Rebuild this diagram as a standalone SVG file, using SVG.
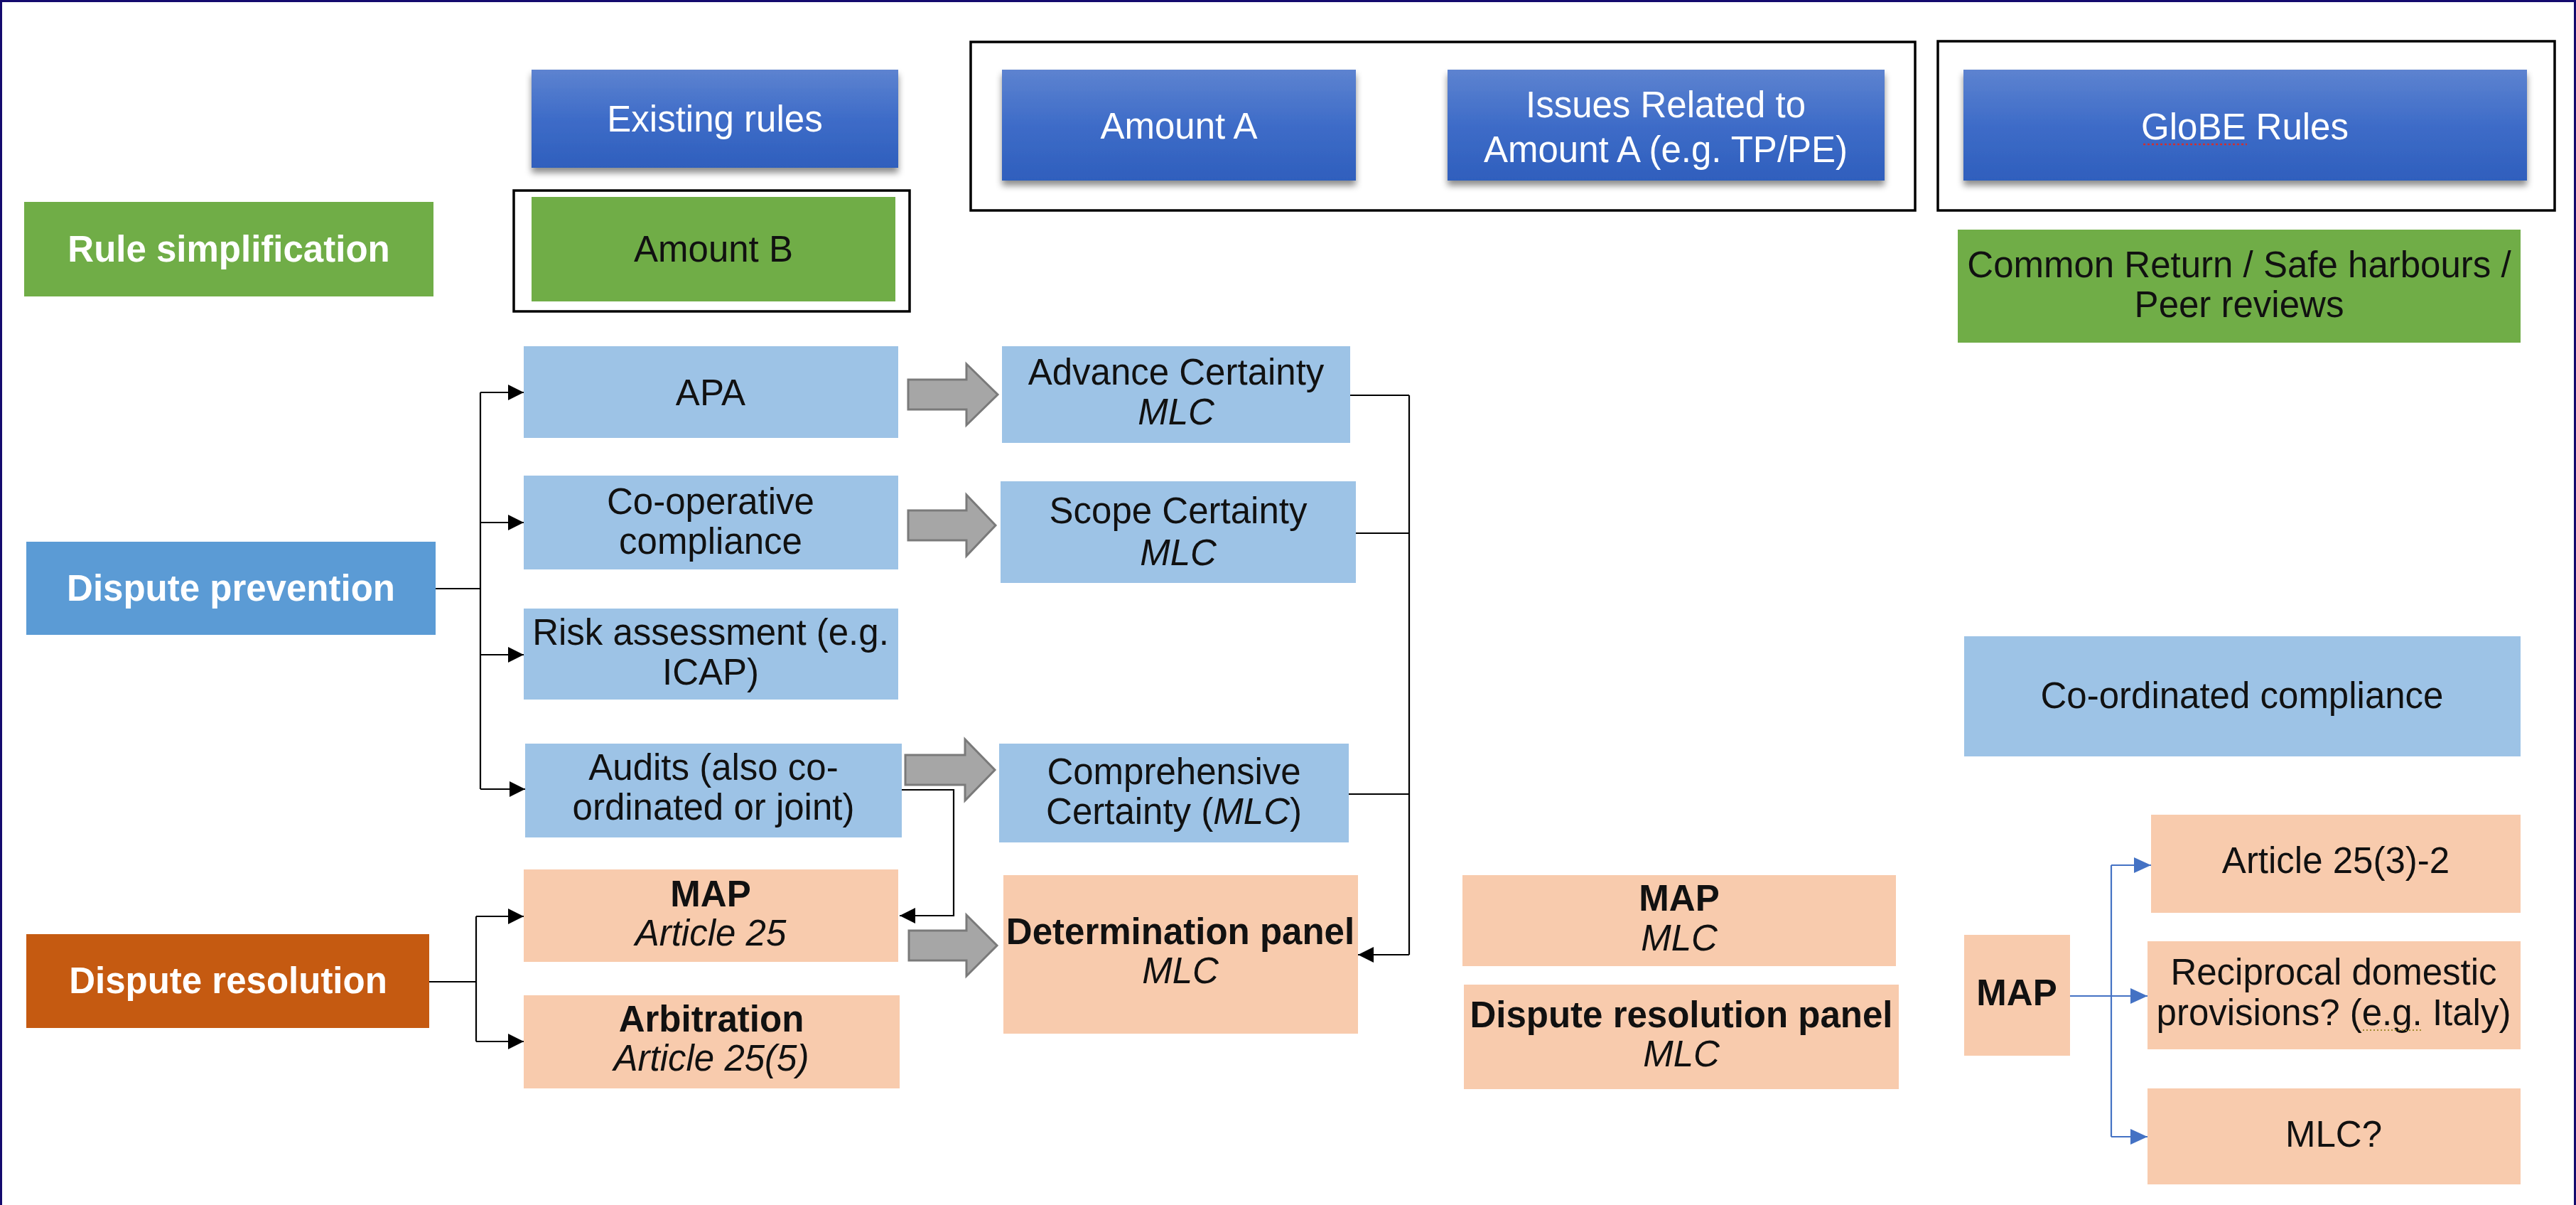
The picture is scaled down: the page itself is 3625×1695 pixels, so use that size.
<svg xmlns="http://www.w3.org/2000/svg" width="3625" height="1695" viewBox="0 0 3625 1695">
<defs>
<linearGradient id="gBlue" x1="0" y1="0" x2="0" y2="1">
<stop offset="0" stop-color="#5d83d0"/>
<stop offset="0.5" stop-color="#3e6cc8"/>
<stop offset="1" stop-color="#2f5fbd"/>
</linearGradient>
<filter id="shadow" x="-10%" y="-10%" width="120%" height="140%">
<feDropShadow dx="0" dy="7" stdDeviation="5" flood-color="#000" flood-opacity="0.45"/>
</filter>
<marker id="ah" markerWidth="22" markerHeight="22" refX="22" refY="11" orient="auto" markerUnits="userSpaceOnUse">
<path d="M0,0 L22,11 L0,22 Z" fill="#000"/>
</marker>
<marker id="ahb" markerWidth="24" markerHeight="22" refX="24" refY="11" orient="auto" markerUnits="userSpaceOnUse">
<path d="M0,0 L24,11 L0,22 Z" fill="#4472c4"/>
</marker>
</defs>
<style>
text{font-family:"Liberation Sans",Arial,sans-serif;font-size:51px;text-anchor:middle;fill:#111}
.w{fill:#fff}
.b{font-weight:bold}
.i{font-style:italic}
.blue{fill:url(#gBlue);filter:url(#shadow)}
.green{fill:#70ad47}
.lb{fill:#9dc3e6}
.pe{fill:#f8cbad}
.frame{fill:none;stroke:#000;stroke-width:3.5}
.con{fill:none;stroke:#000;stroke-width:2.2}
.conb{fill:none;stroke:#4472c4;stroke-width:2.2}
.bigarrow{fill:#a6a6a6;stroke:#7a7a7a;stroke-width:3}
</style>
<rect width="3625" height="1695" fill="#fff"/>
<path d="M1.5,1695 V1.5 H3623.5 V1695" fill="none" stroke="#140a6e" stroke-width="3"/>

<!-- frames -->
<rect class="frame" x="723" y="268" width="557" height="170"/>
<rect class="frame" x="1366" y="59" width="1329" height="237"/>
<rect class="frame" x="2727" y="58" width="868" height="238"/>

<g id="rule-simplification"><rect class="green" x="34" y="284" width="576" height="133"/><text class="w b" x="322" y="368">Rule simplification</text></g>
<g id="existing-rules"><rect class="blue" x="748" y="98" width="516" height="138"/><text class="w" x="1006" y="185">Existing rules</text></g>
<g id="amount-b"><rect class="green" x="748" y="277" width="512" height="147"/><text x="1004" y="368">Amount B</text></g>
<g id="amount-a"><rect class="blue" x="1410" y="98" width="498" height="156"/><text class="w" x="1659" y="195">Amount A</text></g>
<g id="issues"><rect class="blue" x="2037" y="98" width="615" height="156"/><text class="w" x="2344" y="165">Issues Related to</text><text class="w" x="2344" y="228">Amount A (e.g. TP/PE)</text></g>
<g id="globe"><rect class="blue" x="2763" y="98" width="793" height="156"/><text class="w" x="3159" y="196">GloBE Rules</text><path d="M3016,203 H3162" stroke="#d03030" stroke-width="2.5" stroke-dasharray="3 3" fill="none"/></g>
<g id="common-return"><rect class="green" x="2755" y="323" width="792" height="159"/><text x="3151" y="390">Common Return / Safe harbours /</text><text x="3151" y="446">Peer reviews</text></g>

<g id="dispute-prevention"><rect fill="#5b9bd5" x="37" y="762" width="576" height="131"/><text class="w b" x="325" y="845">Dispute prevention</text></g>
<g id="apa"><rect class="lb" x="737" y="487" width="527" height="129"/><text x="1000" y="570">APA</text></g>
<g id="co-operative"><rect class="lb" x="737" y="669" width="527" height="132"/><text x="1000" y="723">Co-operative</text><text x="1000" y="779">compliance</text></g>
<g id="risk"><rect class="lb" x="737" y="856" width="527" height="128"/><text x="1000" y="907">Risk assessment (e.g.</text><text x="1000" y="963">ICAP)</text></g>
<g id="audits"><rect class="lb" x="739" y="1046" width="530" height="132"/><text x="1004" y="1097">Audits (also co-</text><text x="1004" y="1153">ordinated or joint)</text></g>
<g id="advance"><rect class="lb" x="1410" y="487" width="490" height="136"/><text x="1655" y="541">Advance Certainty</text><text class="i" x="1655" y="597">MLC</text></g>
<g id="scope"><rect class="lb" x="1408" y="677" width="500" height="143"/><text x="1658" y="736">Scope Certainty</text><text class="i" x="1658" y="795">MLC</text></g>
<g id="comprehensive"><rect class="lb" x="1406" y="1046" width="492" height="139"/><text x="1652" y="1103">Comprehensive</text><text x="1652" y="1159">Certainty (<tspan class="i">MLC</tspan>)</text></g>

<g id="dispute-resolution"><rect fill="#c55a11" x="37" y="1314" width="567" height="132"/><text class="w b" x="321" y="1397">Dispute resolution</text></g>
<g id="map-art25"><rect class="pe" x="737" y="1223" width="527" height="130"/><text class="b" x="1000" y="1275">MAP</text><text class="i" x="1000" y="1330">Article 25</text></g>
<g id="arbitration"><rect class="pe" x="737" y="1400" width="529" height="131"/><text class="b" x="1001" y="1451">Arbitration</text><text class="i" x="1001" y="1506">Article 25(5)</text></g>
<g id="determination"><rect class="pe" x="1412" y="1231" width="499" height="223"/><text class="b" x="1661" y="1328">Determination panel</text><text class="i" x="1661" y="1383">MLC</text></g>
<g id="map-mlc"><rect class="pe" x="2058" y="1231" width="610" height="128"/><text class="b" x="2363" y="1281">MAP</text><text class="i" x="2363" y="1337">MLC</text></g>
<g id="dr-panel"><rect class="pe" x="2060" y="1385" width="612" height="147"/><text class="b" x="2366" y="1445">Dispute resolution panel</text><text class="i" x="2366" y="1500">MLC</text></g>

<g id="coordinated"><rect class="lb" x="2764" y="895" width="783" height="169"/><text x="3155" y="996">Co-ordinated compliance</text></g>
<g id="map-small"><rect class="pe" x="2764" y="1315" width="149" height="170"/><text class="b" x="2838" y="1414">MAP</text></g>
<g id="art25-3"><rect class="pe" x="3027" y="1146" width="520" height="138"/><text x="3287" y="1228">Article 25(3)-2</text></g>
<g id="reciprocal"><rect class="pe" x="3022" y="1324" width="525" height="152"/><text x="3284" y="1385">Reciprocal domestic</text><text x="3284" y="1442">provisions? (e.g. Italy)</text><path d="M3325,1449 H3410" stroke="#a08a30" stroke-width="2" stroke-dasharray="2 3" fill="none"/></g>
<g id="mlc-q"><rect class="pe" x="3022" y="1531" width="525" height="135"/><text x="3284" y="1613">MLC?</text></g>

<g id="connectors">
<path class="con" d="M613,828 H676 M676,552 V1110"/>
<path class="con" d="M676,552 H737" marker-end="url(#ah)"/>
<path class="con" d="M676,735 H737" marker-end="url(#ah)"/>
<path class="con" d="M676,921 H737" marker-end="url(#ah)"/>
<path class="con" d="M676,1110 H739" marker-end="url(#ah)"/>
<path class="con" d="M604,1381 H670 M670,1289 V1465"/>
<path class="con" d="M670,1289 H737" marker-end="url(#ah)"/>
<path class="con" d="M670,1465 H737" marker-end="url(#ah)"/>
<path class="con" d="M1900,556 H1983 M1908,750 H1983 M1898,1117 H1983 M1983,556 V1343"/>
<path class="con" d="M1983,1343 H1911" marker-end="url(#ah)"/>
<path class="con" d="M1269,1111 H1342 V1288 H1266" marker-end="url(#ah)"/>
<path class="conb" d="M2913,1401 H2971 M2971,1217 V1599"/>
<path class="conb" d="M2971,1217 H3027" marker-end="url(#ahb)"/>
<path class="conb" d="M2971,1401 H3022" marker-end="url(#ahb)"/>
<path class="conb" d="M2971,1599 H3022" marker-end="url(#ahb)"/>
<polygon class="bigarrow" points="1278,534 1360,534 1360,512 1404,555 1360,598 1360,576 1278,576"/>
<polygon class="bigarrow" points="1278,718 1360,718 1360,696 1401,739 1360,782 1360,760 1278,760"/>
<polygon class="bigarrow" points="1274,1062 1358,1062 1358,1040 1400,1083 1358,1126 1358,1104 1274,1104"/>
<polygon class="bigarrow" points="1279,1309 1360,1309 1360,1287 1403,1330 1360,1373 1360,1351 1279,1351"/>
</g>
</svg>
